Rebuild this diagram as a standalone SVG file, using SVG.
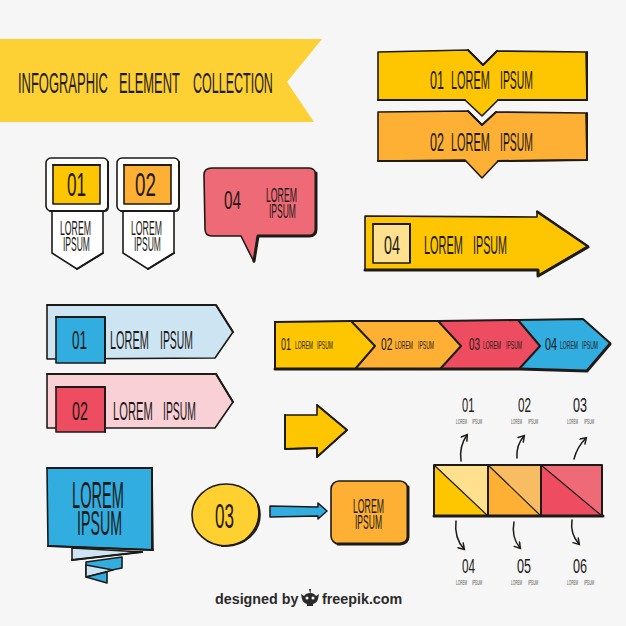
<svg xmlns="http://www.w3.org/2000/svg" width="626" height="626" viewBox="0 0 626 626">
<style>
text{font-family:"Liberation Sans",Arial,sans-serif;fill:#1d1a17}
.o{stroke:#1d1a17;stroke-width:1.6;stroke-linejoin:round}
.s{fill:none;stroke:#1d1a17;stroke-width:3;stroke-linejoin:round;stroke-linecap:round}
.m{fill:none;stroke:#1d1a17;stroke-width:2;stroke-linejoin:round;stroke-linecap:round}
.a{fill:none;stroke:#1d1a17;stroke-width:1.5;stroke-linecap:round}
.y{fill:#fec600}.or{fill:#fdb033}.r{fill:#ee4c60}.b{fill:#31ade0}
.sm{fill:#55514e;font-size:8px}
.f11{font-size:11px}.f17{font-size:17px}.f20{font-size:20px}.f21{font-size:21px}.f26{font-size:26px}.f30{font-size:30px}.f33{font-size:33px}.f36{font-size:36px}
.c{fill:#2b2a29;font-size:14.3px;font-weight:700}
</style>
<defs>
<marker id="h" markerWidth="9" markerHeight="9" refX="6" refY="4" orient="auto" markerUnits="userSpaceOnUse"><path d="M1 .5L6.500 4L1 7.500" fill="none" stroke="#1d1a17" stroke-width="1.500" stroke-linecap="round"/></marker>
</defs>
<rect width="626" height="626" fill="#f6f6f6"/>

<g id="title-banner">
<path d="M0 39H322L287 82L314 122H0Z" fill="#fdd033"/>
<text class="f30" transform="translate(18 93) scale(.432 1)">INFOGRAPHIC</text>
<text class="f30" transform="translate(119 93) scale(.43 1)">ELEMENT</text>
<text class="f30" transform="translate(193 93) scale(.417 1)">COLLECTION</text>
</g>

<g id="card-01">
<path class="o" d="M52 211V253L77 269L103 253V211Z" fill="#fff"/>
<path class="m" d="M77 269L103 253"/>
<rect class="o" x="46" y="158" width="62" height="53" rx="5" fill="#fff"/>
<path class="m" d="M108 162V207Q108 211 104 211H50"/>
<rect class="o" x="53" y="165" width="47" height="39" fill="#fec600"/>
<path class="m" d="M53 165H100"/>
<text class="f33" transform="translate(67 196) scale(.52 1)">01</text>
<text class="f20" transform="translate(60 235) scale(.436 1)">LOREM</text>
<text class="f20" transform="translate(63 251) scale(.426 1)">IPSUM</text>
</g>

<g id="card-02">
<path class="o" d="M123 211V253L148 269L174 253V211Z" fill="#fff"/>
<path class="m" d="M148 269L174 253"/>
<rect class="o" x="117" y="158" width="62" height="53" rx="5" fill="#fff"/>
<path class="m" d="M179 162V207Q179 211 175 211H121"/>
<rect class="o" x="124" y="165" width="47" height="39" fill="#fdb033"/>
<path class="m" d="M124 165H171"/>
<text class="f33" transform="translate(135 196) scale(.57 1)">02</text>
<text class="f20" transform="translate(131 235) scale(.436 1)">LOREM</text>
<text class="f20" transform="translate(134 251) scale(.426 1)">IPSUM</text>
</g>

<g id="speech-bubble">
<path class="o" d="M212 168H309Q315 168 316 175L316 229Q316 236 309 236L258 236L254 262L241 236H212Q205 236 205 229L204 175Q204 168 212 168Z" fill="#ef6a77"/>
<path class="s" d="M316 173V229Q316 236 309 236H258L254 261"/>
<text class="f26" transform="translate(224 209) scale(.59 1)">04</text>
<text class="f20" transform="translate(266 202) scale(.436 1)">LOREM</text>
<text class="f20" transform="translate(269 218) scale(.426 1)">IPSUM</text>
</g>

<g id="ribbon-01">
<path class="o" d="M378 52L468 50L483 65L497 51L586 52L587 100L498 100L482 116L465 100L378 100Z" fill="#fec600"/>
<path class="m" d="M378 100H465M498 100H587V52M468 50L483 65L497 51"/>
<text class="f26" transform="translate(430 89) scale(.484 1)">01</text>
<text class="f26" transform="translate(451 89) scale(.42 1)">LOREM</text>
<text class="f26" transform="translate(500 89) scale(.4 1)">IPSUM</text>
</g>

<g id="ribbon-02">
<path class="o" d="M378 112L468 111L482 125L496 112L586 113L587 160L498 161L482 178L465 160L378 161Z" fill="#fdb033"/>
<path class="m" d="M378 161H465M498 161L587 160V113M468 111L482 125L496 112"/>
<text class="f26" transform="translate(430 151) scale(.484 1)">02</text>
<text class="f26" transform="translate(451 151) scale(.42 1)">LOREM</text>
<text class="f26" transform="translate(500 151) scale(.4 1)">IPSUM</text>
</g>

<g id="arrow-04">
<path class="o" d="M365 216L537 217V211L588 246L538 276V270L365 270Z" fill="#fec600"/>
<path class="s" d="M365 270L538 270V276L588 247"/>
<path class="m" d="M537 212L587 246"/>
<rect class="o" x="373" y="224" width="37" height="39" fill="#fee08e"/>
<path class="m" d="M373 224H410V262"/>
<text class="f26" transform="translate(384 254) scale(.55 1)">04</text>
<text class="f26" transform="translate(424 254) scale(.42 1)">LOREM</text>
<text class="f26" transform="translate(473 254) scale(.413 1)">IPSUM</text>
</g>

<g id="tag-blue">
<path class="o" d="M47 305L216 305L233 332L215 358L47 359Z" fill="#cde5f3"/>
<path class="m" d="M47 305L216 305L233 332"/>
<rect x="56" y="317" width="49" height="46" fill="#31ade0" class="o"/>
<path class="m" d="M56 317H105V363"/>
<text class="f26" transform="translate(72 349) scale(.52 1)">01</text>
<text class="f26" transform="translate(110 349) scale(.42 1)">LOREM</text>
<text class="f26" transform="translate(160 349) scale(.4 1)">IPSUM</text>
</g>

<g id="tag-pink">
<path class="o" d="M47 374L216 374L233 402L215 428L47 428Z" fill="#fad0d7"/>
<path class="m" d="M47 374L216 374L233 402"/>
<rect x="56" y="387" width="49" height="45" fill="#ee4c60" class="o"/>
<path class="m" d="M56 387H105V432"/>
<text class="f26" transform="translate(72 420) scale(.55 1)">02</text>
<text class="f26" transform="translate(113 420) scale(.43 1)">LOREM</text>
<text class="f26" transform="translate(163 420) scale(.4 1)">IPSUM</text>
</g>

<g id="chain">
<path class="y" d="M275 322L351 321L375 346L356 368L275 369Z"/>
<path class="or" d="M351 321L438 321L461 346L441 368L356 368L375 346Z"/>
<path class="r" d="M438 321L518 320L540 346L520 368L441 368L461 346Z"/>
<path class="b" d="M518 320L583 319L610 343L587 370L520 368L540 346Z"/>
<path class="m" d="M351 321L375 346L356 368M438 321L461 346L441 368M518 320L540 346L520 368"/>
<path class="m" d="M275 322L351 321L438 321L518 320L583 319L610 343"/>
<path class="m" d="M275 322V369"/>
<path class="s" d="M275 369L520 369L587 371L610 344"/>
<text class="f17" transform="translate(281 350) scale(.53 1)">01</text>
<text class="f11" transform="translate(295 349) scale(.46 1)">LOREM</text>
<text class="f11" transform="translate(317 349) scale(.46 1)">IPSUM</text>
<text class="f17" transform="translate(381 350) scale(.6 1)">02</text>
<text class="f11" transform="translate(395 349) scale(.46 1)">LOREM</text>
<text class="f11" transform="translate(418 349) scale(.46 1)">IPSUM</text>
<text class="f17" transform="translate(469 350) scale(.58 1)">03</text>
<text class="f11" transform="translate(483 349) scale(.46 1)">LOREM</text>
<text class="f11" transform="translate(506 349) scale(.46 1)">IPSUM</text>
<text class="f17" transform="translate(545 350) scale(.64 1)">04</text>
<text class="f11" transform="translate(560 349) scale(.46 1)">LOREM</text>
<text class="f11" transform="translate(582 349) scale(.46 1)">IPSUM</text>
</g>

<g id="arrow-small">
<path class="o" d="M285 415L317 415L317 405L347 430L317 457L317 448L285 449Z" fill="#fec600"/>
<path class="m" d="M285 415V449L317 448V457L347 430L317 405"/>
</g>

<g id="segmented-box">
<path fill="#fee08e" d="M434 465H488V516Z"/><path fill="#fec600" d="M434 465V516H488Z"/>
<path fill="#f8bc62" d="M488 465H541V516Z"/><path fill="#fdb033" d="M488 465V516H541Z"/>
<path fill="#ef6a77" d="M541 465H602V516Z"/><path fill="#ee4c60" d="M541 465V516H602Z"/>
<path fill="none" stroke="#1d1a17" stroke-width="1.200" d="M434 465L488 516M488 465L541 516M541 465L602 516"/>
<path class="m" d="M434 465H602V516M434 465V516M488 465V516M541 465V516"/>
<path class="s" d="M434 516H603"/>
</g>

<g id="label-01"><text class="f21" transform="translate(462 412) scale(.53 1)">01</text><text class="sm" transform="translate(456 424) scale(.39 1)">LOREM</text><text class="sm" transform="translate(472 424) scale(.4 1)">IPSUM</text></g>
<g id="label-02"><text class="f21" transform="translate(518 412) scale(.56 1)">02</text><text class="sm" transform="translate(511 424) scale(.39 1)">LOREM</text><text class="sm" transform="translate(528 424) scale(.4 1)">IPSUM</text></g>
<g id="label-03"><text class="f21" transform="translate(573 412) scale(.6 1)">03</text><text class="sm" transform="translate(567 424) scale(.39 1)">LOREM</text><text class="sm" transform="translate(584 424) scale(.4 1)">IPSUM</text></g>
<g id="label-04"><text class="f21" transform="translate(462 573) scale(.56 1)">04</text><text class="sm" transform="translate(456 585) scale(.39 1)">LOREM</text><text class="sm" transform="translate(472 585) scale(.4 1)">IPSUM</text></g>
<g id="label-05"><text class="f21" transform="translate(517 573) scale(.6 1)">05</text><text class="sm" transform="translate(511 585) scale(.39 1)">LOREM</text><text class="sm" transform="translate(528 585) scale(.4 1)">IPSUM</text></g>
<g id="label-06"><text class="f21" transform="translate(573 573) scale(.6 1)">06</text><text class="sm" transform="translate(567 585) scale(.39 1)">LOREM</text><text class="sm" transform="translate(584 585) scale(.4 1)">IPSUM</text></g>

<g id="connectors">
<path class="a" marker-end="url(#h)" d="M461 461Q459 446 467 435"/>
<path class="a" marker-end="url(#h)" d="M517 458Q516 445 524 436"/>
<path class="a" marker-end="url(#h)" d="M574 459Q577 447 586 438"/>
<path class="a" marker-end="url(#h)" d="M456 521Q454 538 464 549"/>
<path class="a" marker-end="url(#h)" d="M514 522Q511 537 520 548"/>
<path class="a" marker-end="url(#h)" d="M572 520Q570 534 579 544"/>
<path fill="#31ade0" stroke="#1d1a17" stroke-width="1.500" stroke-linejoin="round" d="M270 506L318 507V503L327 511L318 519V516L270 517Z"/>
</g>

<g id="folded-banner">
<path class="o" d="M72 548L72 560L142 552Z" fill="#cde5f3"/>
<path class="o" d="M86 562L122 557V568L86 575Z" fill="#31ade0"/>
<path class="o" d="M86 565V577L113 570Z" fill="#cde5f3"/>
<path class="o" d="M86 577L107 583L107 572Z" fill="#31ade0"/>
<path class="m" d="M72 560L142 552"/>
<path class="o" d="M47 468L152 468L153 550L48 546Z" fill="#31ade0"/>
<path class="m" d="M47 468H152V550M48 546L153 550"/>
<text class="f36" transform="translate(72 508) scale(.406 1)">LOREM</text>
<text class="f36" transform="translate(77 535) scale(.395 1)">IPSUM</text>
</g>

<g id="circle-03">
<ellipse class="o" cx="226" cy="515" rx="34" ry="31" fill="#fed030"/>
<path class="m" d="M258 505Q263 525 245 540Q235 546 222 546"/>
<text class="f36" transform="translate(215 528) scale(.475 1)">03</text>
</g>

<g id="box-lorem">
<rect class="o" x="331" y="481" width="77" height="63" rx="8" fill="#fdb033"/>
<path class="s" d="M408 487V537Q408 543 400 544H338"/>
<text class="f21" transform="translate(353 513) scale(.415 1)">LOREM</text>
<text class="f21" transform="translate(355 529) scale(.406 1)">IPSUM</text>
</g>

<g id="credit">
<text class="c" x="215" y="604">designed by</text>
<path fill="#2b2a29" d="M301 594L304 596Q306 593 310 593L309 589H311L310.500 593Q314 593 316 596L319 594L318 599Q317 603 313 604V606H307V604Q303 603 302 599Z"/>
<circle cx="307" cy="598" r="1.500" fill="#f6f6f6"/>
<circle cx="313" cy="598" r="1.500" fill="#f6f6f6"/>
<text class="c" x="322" y="604">freepik.com</text>
</g>
</svg>
